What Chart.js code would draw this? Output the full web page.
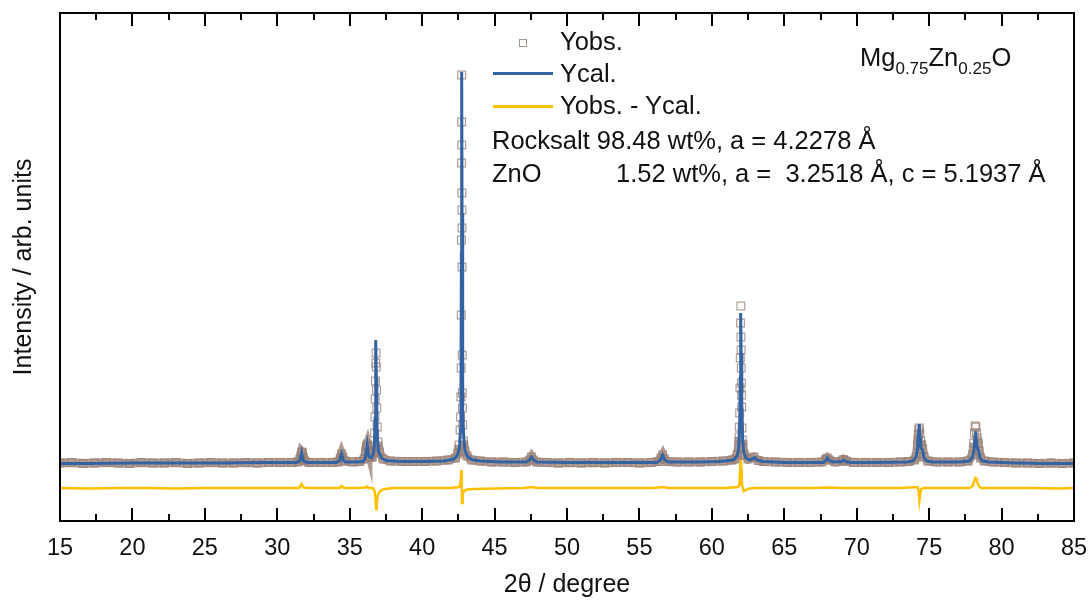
<!DOCTYPE html>
<html>
<head>
<meta charset="utf-8">
<script src="https://cdn.jsdelivr.net/npm/chart.js@4.4.0/dist/chart.umd.min.js"></script>
<style>
  body { margin: 0; background: #fff; }
  #wrap { position: relative; width: 1091px; height: 601px; font-family: 'Liberation Sans', Arial, sans-serif; color: #111; }
  canvas { position: absolute; left: 0; top: 0; }
  .lbl { position: absolute; font-size: 25.5px; line-height: 25.5px; white-space: pre; }
  .sub { font-size: 17px; position: relative; top: 8px; }
  .seg { position: absolute; height: 3px; }
  .mk { position: absolute; width: 8px; height: 8px; border: 1px solid #a8958d; box-sizing: border-box; }
</style>
</head>
<body>
<div id="wrap">
  <canvas id="xrd" width="1091" height="601"></canvas>

  <div class="mk" style="left:519px; top:39px;"></div>
  <div class="lbl" style="left:560px; top:29px;">Yobs.</div>
  <div class="seg" style="left:493px; top:72px; width:60px; background:#3363a3;"></div>
  <div class="lbl" style="left:560px; top:61px;">Ycal.</div>
  <div class="seg" style="left:493px; top:105px; width:60px; background:#ffc000;"></div>
  <div class="lbl" style="left:560px; top:93px;">Yobs. - Ycal.</div>
  <div class="lbl" style="left:492px; top:128px;">Rocksalt 98.48 wt%, a = 4.2278 Å</div>
  <div class="lbl" style="left:492px; top:161px;">ZnO</div>
  <div class="lbl" style="left:616px; top:161px;">1.52 wt%, a =  3.2518 Å, c = 5.1937 Å</div>
  <div class="lbl" style="left:860px; top:45px;">Mg<span class="sub">0.75</span>Zn<span class="sub">0.25</span>O</div>
</div>

<script>
// ── observed pattern (2θ, intensity) ──
const obsX = [15, 15.8, 16.6, 17.4, 18.2, 19, 19.8, 20.6, 21.4, 22.2, 23, 23.8, 24.6, 25.4, 26.2, 27, 27.8, 28.6, 29.4, 30.2, 31,
  31.4, 31.55, 31.62, 31.68, 31.74, 31.8, 31.9, 32.2, 33, 33.8,
  34.2, 34.35, 34.44, 34.52, 34.65, 35.2, 35.7,
  36.0, 36.1, 36.16, 36.21, 36.26, 36.32, 36.42, 36.55,
  36.63, 36.68, 36.72, 36.74, 36.76, 36.78, 36.80, 36.82, 36.83, 36.85, 36.87, 36.9, 36.95, 37.05, 37.3, 37.8,
  38.6, 39.4, 40.2, 41, 41.8, 42.3, 42.45, 42.55, 42.62, 42.65, 42.67, 42.69, 42.70, 42.71, 42.72, 42.725, 42.73,
  42.735, 42.74, 42.745, 42.75, 42.755, 42.765, 42.775, 42.785, 42.80, 42.85, 42.95, 43.1, 43.4, 44, 44.8, 45.6, 46.4,
  47.2, 47.42, 47.55, 47.68, 47.9, 48.6, 49.4, 50.2, 51, 51.8, 52.6, 53.4, 54.2, 55, 55.8,
  56.3, 56.48, 56.6, 56.72, 56.9, 57.6, 58.4, 59.2, 60, 60.8, 61.4, 61.6,
  61.75, 61.85, 61.88, 61.9, 61.92, 61.94, 61.96, 61.98, 62.0, 62.01, 62.02, 62.03, 62.04, 62.05, 62.06, 62.08, 62.1,
  62.14, 62.25, 62.5, 62.9, 63.2, 63.6, 64.4, 65.2, 66, 66.8,
  67.6, 67.85, 67.97, 68.1, 68.5, 69.0, 69.1, 69.25, 69.8, 70.6, 71.4, 72.2, 73, 73.6,
  74.0, 74.1, 74.2, 74.25, 74.28, 74.32, 74.36, 74.42, 74.48, 74.55, 74.65, 74.9, 75.5, 76.3, 77.1, 77.7,
  78.0, 78.08, 78.13, 78.18, 78.22, 78.27, 78.32, 78.38, 78.45, 78.55, 78.8, 79.4, 80.2, 81, 81.8, 82.6, 83.4, 84.2, 85];
const obsY = [0, 0.5, -0.5, 0, 0.5, 0, -0.5, 0.5, 0, 0, 0.5, -0.5, 0, 0.5, 0, 0, 0.5, 0, 0.5, 0.5, 0.5,
  1, 3.5, 7, 11, 10, 5, 2, 0.5, 0.5, 0.5,
  1, 5, 9, 6, 2, 1, 1.5,
  4, 12, 17, 19, 16, 10, 6, 6,
  10, 17, 30, 46, 64, 82, 100, 110, 96, 73, 55, 36, 21, 11, 4, 2,
  1.5, 1.5, 1.5, 2, 3, 5, 9, 18, 33, 46, 66, 95, 148, 223, 300, 341, 388,
  318, 270, 253, 235, 196, 108, 70, 55, 38, 22, 12, 7, 3, 2, 1, 1, 0.5,
  1, 3, 6, 3, 1, 0.5, 0, 0.5, 0, 0.5, 0, 0.5, 0.5, 0, 0.5,
  1.5, 5, 8, 4, 1.5, 1, 1, 1, 1.5, 2, 3, 4,
  8, 16, 26, 36, 50, 75, 105, 140, 157, 126, 113, 95, 80, 68, 56, 35, 23,
  15, 8, 4, 6, 2.5, 1.5, 1, 0.5, 0.5, 0.5,
  1, 3.5, 5, 3, 1, 2, 3.5, 2, 0.5, 0.5, 0.5, 0.5, 1, 1.5,
  3, 6, 18, 28, 33, 35, 30, 22, 18, 14, 6, 2, 1, 1, 1, 2,
  8, 20, 30, 37, 36, 30, 25, 20, 12, 5, 2, 1, 0.5, 0, 0, -0.5, 0, -0.5, 0];

// ── calculated pattern ──
const calX = [15, 17, 20, 23, 26, 29, 31.3, 31.5, 31.6, 31.68, 31.76, 31.85, 32.1, 33,
  34.1, 34.3, 34.44, 34.55, 34.7, 35.5, 35.9, 36.05, 36.15, 36.21, 36.27, 36.35, 36.5, 36.62,
  36.7, 36.75, 36.78, 36.81, 36.84, 36.87, 36.92, 37.0, 37.2, 37.5, 38.5, 40, 41.5,
  42.2, 42.45, 42.58, 42.64, 42.68, 42.71, 42.73, 42.755, 42.78, 42.82, 42.87, 42.95, 43.1, 43.4, 44, 45.5,
  47.2, 47.42, 47.55, 47.68, 47.9, 50, 53, 56.2, 56.45, 56.6, 56.75, 57, 59, 60.5,
  61.5, 61.75, 61.85, 61.92, 61.96, 61.99, 62.02, 62.05, 62.08, 62.12, 62.2, 62.35, 62.6, 62.8, 62.95, 63.1, 63.5, 65,
  67.7, 67.88, 67.97, 68.08, 68.4, 68.95, 69.1, 69.25, 69.6, 71, 73.5,
  73.9, 74.1, 74.2, 74.27, 74.32, 74.37, 74.42, 74.5, 74.56, 74.65, 74.85, 75.2, 77,
  77.8, 78.0, 78.1, 78.17, 78.21, 78.26, 78.33, 78.42, 78.5, 78.7, 79.1, 81, 83, 85];
const calY = [-0.5, -0.5, 0, 0, 0, 0.5, 0.5, 1.5, 4, 10, 4, 1.5, 0.5, 0.5,
  0.5, 2.5, 9, 3, 1, 1, 1.5, 4, 12, 18, 11, 6, 5, 9,
  18, 45, 90, 123, 85, 45, 22, 11, 5, 2.5, 1.5, 1.5, 2,
  4, 8, 16, 32, 75, 210, 391, 250, 120, 52, 26, 13, 7, 3.5, 2, 1,
  1, 3, 6, 3, 1, 0.5, 0.5, 0.5, 3, 8, 3, 1, 1, 1.5,
  3, 7, 15, 36, 85, 150, 110, 72, 60, 26, 11, 5, 3, 4, 5.5, 3, 1.5, 0.5,
  0.5, 3, 5, 2.5, 1, 1.5, 3, 1.5, 0.5, 0.5, 1,
  2, 6, 15, 30, 39, 25, 16, 14, 12, 5, 2, 1, 1,
  2, 6, 14, 25, 32, 22, 15, 12, 5, 2, 1, 0, -0.5, -0.5];

// ── difference curve (offset below) ──
const diffX = [15, 17, 19, 21, 23, 25, 27, 29, 31, 31.5, 31.68, 31.8, 32.2, 33.5, 34.3, 34.44, 34.6, 35.5,
  36.1, 36.2, 36.3, 36.6, 36.72, 36.78, 36.82, 36.86, 36.92, 37.0, 37.15, 37.4, 38, 40, 42,
  42.55, 42.65, 42.7, 42.73, 42.76, 42.8, 42.9, 43.1, 43.6, 45, 47, 47.55, 48, 50, 52, 54, 56, 56.6, 57, 59, 61,
  61.8, 61.9, 61.96, 61.99, 62.01, 62.03, 62.06, 62.1, 62.2, 62.35, 62.6, 63, 65, 67, 68, 69, 71, 73,
  74.2, 74.28, 74.33, 74.38, 74.45, 74.6, 76, 77.8, 78.0, 78.1, 78.18, 78.26, 78.35, 78.45, 78.6, 80, 82, 84, 85];
const diffY = [-25, -25.5, -25, -25, -25.5, -25, -25, -25, -25, -25, -21, -24.5, -25, -25, -25, -23, -25, -25,
  -24.5, -23.5, -25, -25, -28, -35, -46, -41, -34, -30, -27.5, -26, -25, -25, -25,
  -24, -20, -7, -18, -40, -31, -28, -26.5, -26, -25.5, -25, -24, -25, -25, -25, -25, -25, -24, -25, -25, -25,
  -24, -22, -5, 5, -8, -6, -17, -23, -28, -27, -25.5, -25, -25, -25, -24.5, -25, -25, -25,
  -24, -28, -37, -31, -26, -25, -25, -25, -23, -19, -15, -15.5, -20, -23.5, -25, -25, -25, -25.5, -25];

const xTicks = [15, 20, 25, 30, 35, 40, 45, 50, 55, 60, 65, 70, 75, 80, 85];

const pts = (xs, ys) => xs.map((x, i) => ({ x, y: ys[i] }));

// frame + inward ticks on bottom and top edges, like the original plot
const framePlugin = {
  id: 'frame',
  beforeDraw(chart) {
    const c = chart.ctx;
    c.save();
    c.fillStyle = '#fff';
    c.fillRect(0, 0, chart.width, chart.height);
    c.restore();
  },
  afterDraw(chart) {
    const c = chart.ctx, a = chart.chartArea, xs = chart.scales.x;
    c.save();
    c.strokeStyle = '#000';
    c.lineWidth = 2;
    c.strokeRect(a.left, a.top, a.right - a.left, a.bottom - a.top);
    for (let v = 15; v <= 85; v += 2.5) {
      const px = Math.round(xs.getPixelForValue(v));
      const len = xTicks.includes(v) ? 13 : 7;
      c.beginPath();
      c.moveTo(px, a.bottom); c.lineTo(px, a.bottom - len);
      c.moveTo(px, a.top); c.lineTo(px, a.top + len);
      c.stroke();
    }
    c.restore();
  }
};

new Chart(document.getElementById('xrd').getContext('2d'), {
  type: 'line',
  data: {
    datasets: [
      {
        label: 'Ycal.',
        data: pts(calX, calY),
        borderColor: '#3363a3',
        borderWidth: 3,
        pointRadius: 0,
        tension: 0,
        order: 0,
      },
      {
        label: 'Yobs.',
        data: pts(obsX, obsY),
        pointStyle: 'rect',
        pointRadius: 5.5,
        pointBorderWidth: 1.2,
        pointBorderColor: 'rgba(150,125,115,0.75)',
        pointBackgroundColor: 'rgba(255,255,255,0)',
        borderWidth: 9,
        borderColor: 'rgba(168,145,135,0.9)',
        segment: {
          borderColor: ctx => (ctx.p0.parsed.y < 30 && ctx.p1.parsed.y < 30) ? 'rgba(168,145,135,0.9)' : 'rgba(0,0,0,0)',
        },
        tension: 0,
        order: 1,
      },
      {
        label: 'Yobs. - Ycal.',
        data: pts(diffX, diffY),
        borderColor: '#ffc000',
        borderWidth: 2.5,
        pointRadius: 0,
        tension: 0,
        order: 2,
      },
    ]
  },
  options: {
    responsive: false,
    animation: false,
    events: [],
    layout: { padding: { top: 13, right: 17, bottom: 0, left: 0 } },
    plugins: { legend: { display: false }, tooltip: { enabled: false } },
    scales: {
      x: {
        type: 'linear', min: 15, max: 85,
        afterFit: s => { s.height = 80; s.paddingLeft = 0; s.paddingRight = 0; },
        afterBuildTicks: s => { s.ticks = xTicks.map(v => ({ value: v })); },
        grid: { display: false, drawTicks: false },
        border: { display: false },
        ticks: { color: '#111', padding: 13, font: { family: "'Liberation Sans', Arial", size: 23.5 } },
        title: { display: true, text: '2θ / degree', color: '#111', padding: { top: 0, bottom: 1 },
                 font: { family: "'Liberation Sans', Arial", size: 25 } },
      },
      y: {
        min: -58, max: 450,
        afterFit: s => { s.width = 60; },
        grid: { display: false, drawTicks: false },
        border: { display: false },
        ticks: { display: false },
        title: { display: true, text: 'Intensity / arb. units', color: '#111', padding: { top: 9, bottom: 0 },
                 font: { family: "'Liberation Sans', Arial", size: 25 } },
      }
    }
  },
  plugins: [framePlugin]
});
</script>
</body>
</html>
